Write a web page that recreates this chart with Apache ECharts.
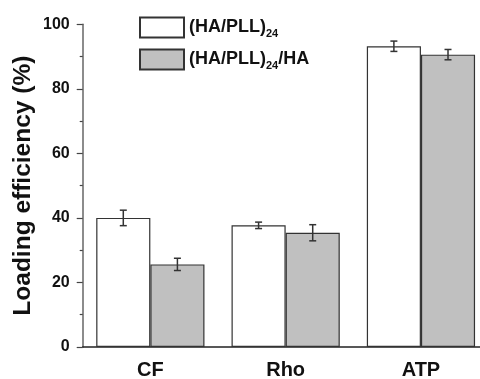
<!DOCTYPE html>
<html>
<head>
<meta charset="utf-8">
<script src="https://cdn.jsdelivr.net/npm/echarts@6/dist/echarts.min.js"></script>
<style>
  html, body { margin: 0; padding: 0; background: #fff; }
  #main { width: 480px; height: 379px; }
</style>
</head>
<body>
<div id="main"></div>
<script>
// values
const categories = ['CF', 'Rho', 'ATP'];
const seriesNames = ['(HA/PLL)24', '(HA/PLL)24/HA'];
const multilayer = [40.0, 37.7, 93.2];
const multilayerErr = [2.4, 1.0, 1.6];
const capped = [25.6, 35.4, 90.6];
const cappedErr = [1.9, 2.5, 1.6];
const yTicks = [0, 20, 40, 60, 80, 100];

const FONT = '"Liberation Sans", Arial, sans-serif';
const INK = '#111';

// error bar drawn at the left (-1) or right (+1) bar of a category
function errorSeries(vals, errs, side) {
    return {
        type: 'custom',
        z: 5,
        data: vals.map((v, i) => [i, v - errs[i], v + errs[i]]),
        renderItem: function (params, api) {
            const idx = api.value(0);
            const lo = api.coord([idx, api.value(1)]);
            const hi = api.coord([idx, api.value(2)]);
            const bw = api.size([1, 0])[0] * 0.4;
            const x = lo[0] + side * bw / 2;
            const cap = 3.5;
            const style = { stroke: '#333', lineWidth: 1.5 };
            return {
                type: 'group',
                children: [
                    { type: 'line', shape: { x1: x, y1: lo[1], x2: x, y2: hi[1] }, style: style },
                    { type: 'line', shape: { x1: x - cap, y1: lo[1], x2: x + cap, y2: lo[1] }, style: style },
                    { type: 'line', shape: { x1: x - cap, y1: hi[1], x2: x + cap, y2: hi[1] }, style: style }
                ]
            };
        }
    };
}

const myChart = echarts.init(document.getElementById('main'));
const option = {
    animation: false,
    backgroundColor: '#fff',
    textStyle: { fontFamily: FONT },
    grid: { left: 82.7, right: -8.6, top: 24.3, bottom: 32, outerBoundsMode: 'none' },
    legend: {
        orient: 'vertical',
        left: 139,
        top: 16.5,
        padding: 0,
        icon: 'rect',
        itemWidth: 44,
        itemHeight: 20,
        itemGap: 9.5,
        data: seriesNames,
        formatter: function (name) {
            return name.replace('24', '{sub|24}');
        },
        textStyle: {
            fontFamily: FONT,
            fontWeight: 'bold',
            fontSize: 18,
            color: INK,
            rich: {
                sub: {
                    fontFamily: FONT,
                    fontWeight: 'bold',
                    fontSize: 11,
                    color: INK,
                    padding: [12, 0, 0, 0]
                }
            }
        }
    },
    xAxis: [{
        type: 'category',
        data: categories,
        position: 'bottom',
        axisLine: { lineStyle: { color: '#222', width: 1.5 } },
        axisTick: { alignWithLabel: true, length: 6, lineStyle: { color: '#444', width: 1.2 } },
        axisLabel: { fontFamily: FONT, fontWeight: 'bold', fontSize: 20, color: INK, margin: 13 }
    }, {
        type: 'category',
        data: categories,
        position: 'bottom',
        gridIndex: 0,
        axisLine: { show: false },
        axisTick: { length: 3, lineStyle: { color: '#444', width: 1.2 } },
        axisLabel: { show: false }
    }],
    yAxis: {
        type: 'value',
        min: yTicks[0],
        max: yTicks[yTicks.length - 1],
        interval: 20,
        name: 'Loading efficiency (%)',
        nameLocation: 'middle',
        nameRotate: 90,
        nameGap: 47,
        nameMoveOverlap: false,
        nameTextStyle: { fontFamily: FONT, fontWeight: 'bold', fontSize: 24.5, color: INK },
        axisLine: { show: true, lineStyle: { color: '#666', width: 1.5 } },
        axisTick: { show: true, length: 6, lineStyle: { color: '#444', width: 1.2 } },
        minorTick: { show: true, splitNumber: 2, length: 3, lineStyle: { color: '#444', width: 1.2 } },
        splitLine: { show: false },
        axisLabel: { fontFamily: FONT, fontWeight: 'bold', fontSize: 16, color: INK, margin: 13 }
    },
    series: [{
        name: seriesNames[0],
        type: 'bar',
        data: multilayer,
        barGap: '0%',
        barCategoryGap: '20%',
        itemStyle: { color: '#fff', borderColor: '#333', borderWidth: 1.2 }
    }, {
        name: seriesNames[1],
        type: 'bar',
        data: capped,
        barGap: '0%',
        barCategoryGap: '20%',
        itemStyle: { color: '#c0c0c0', borderColor: '#333', borderWidth: 1.2 }
    },
    errorSeries(multilayer, multilayerErr, -1),
    errorSeries(capped, cappedErr, 1)]
};
myChart.setOption(option);
</script>
</body>
</html>
